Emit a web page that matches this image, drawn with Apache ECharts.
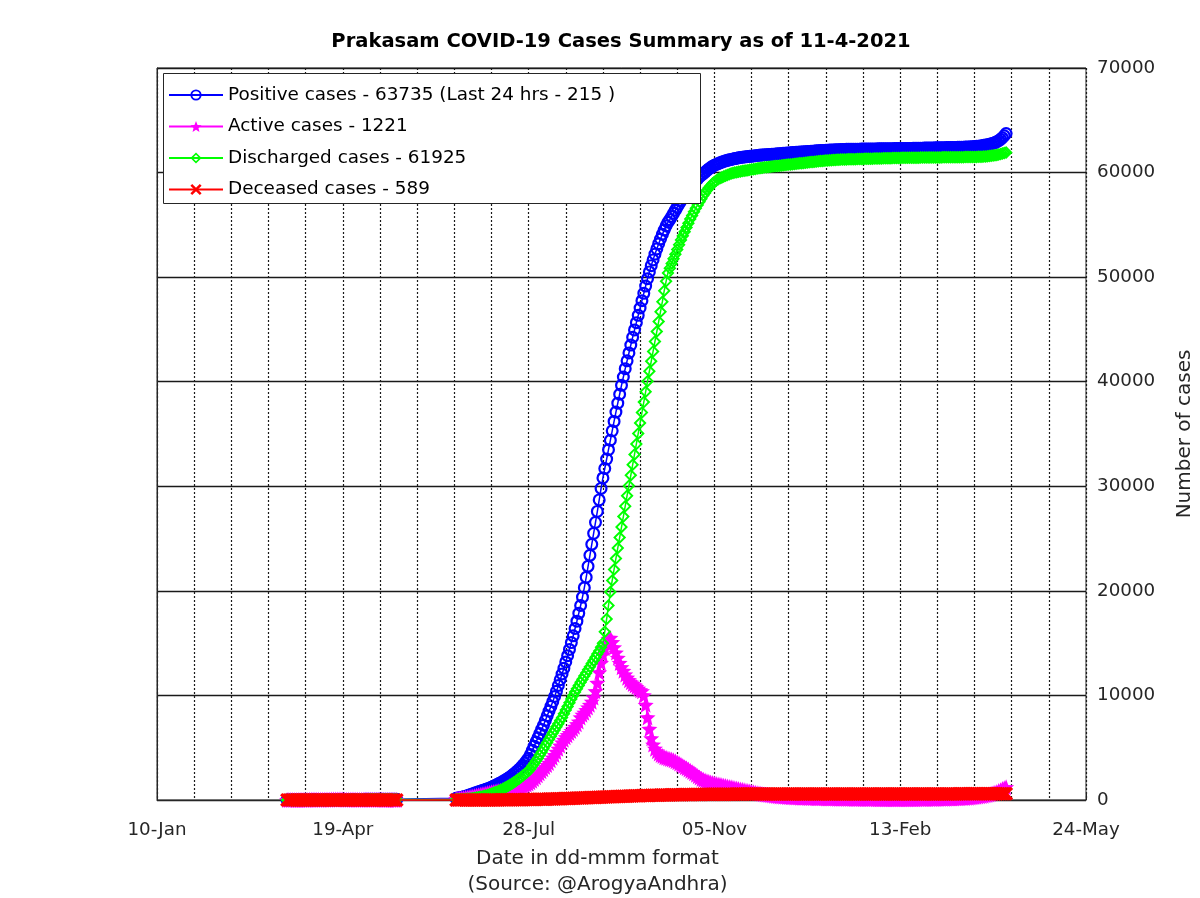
<!DOCTYPE html>
<html><head><meta charset="utf-8">
<script src="https://cdn.jsdelivr.net/npm/echarts@6/dist/echarts.min.js"></script>
<style>html,body{margin:0;padding:0;background:#fff}#c{width:1200px;height:898px}</style>
</head><body><div id="c"></div>
<script>
// ---------- DATA ----------
const titleText = 'Prakasam COVID-19 Cases Summary as of 11-4-2021';
const xAxisName = 'Date in dd-mmm format\n(Source: @ArogyaAndhra)';
const yAxisName = 'Number of cases';
// x axis: days counted from 10-Jan-2020, labelled every 100 days
const xTickLabels = ['10-Jan', '19-Apr', '28-Jul', '05-Nov', '13-Feb', '24-May'];
const xTickStep = 100;
const xMax = 500;
const yMax = 70000;
const yStep = 10000;
const seriesNames = [
  'Positive cases - 63735 (Last 24 hrs - 215 )',
  'Active cases - 1221',
  'Discharged cases - 61925',
  'Deceased cases - 589'
];
// first reporting block: day 70 (20-Mar-2020) .. day 129
const seg1Start = 70;
// second reporting block: day 161 (19-Jun-2020) .. day 457 (11-Apr-2021)
const seg2Start = 161;

const positiveA = [1,2,2,3,3,4,5,6,8,10, 11,11,12,15,17,17,17,17,17,21, 23,27,30,32,38,38,41,42,42,42,
  42,42,44,44,44,49,53,53,56,56, 56,58,60,60,60,60,61,61,61,61, 62,62,62,63,63,63,63,63,63,63];
const activeA = [1,2,2,3,3,4,5,6,8,10, 11,11,12,15,17,17,17,17,17,21, 23,27,29,31,36,36,38,38,38,37,
  36,34,34,32,30,32,33,31,32,30, 28,28,28,26,24,22,21,19,17,15, 14,12,11,11,10,9,8,8,7,7];
const dischargedA = [0,0,0,0,0,0,0,0,0,0, 0,0,0,0,0,0,0,0,0,0, 0,0,1,1,2,2,3,4,4,5,
  6,8,10,12,14,17,20,22,24,26, 28,30,32,34,36,38,40,42,44,46, 48,50,51,52,53,54,55,55,56,56];
const deceasedA = [0,0,0,0,0,0,0,0,0,0, 0,0,0,0,0,0,0,0,0,0, 0,0,0,0,0,0,0,0,0,0,
  0,0,0,0,0,0,0,0,0,0, 0,0,0,0,0,0,0,0,0,0, 0,0,0,0,0,0,0,0,0,0];

const positiveB = [
  160,190,230,270,310,360,410,470,530,600,
  660,720,780,840,900,960,1020,1080,1150,1230,
  1310,1390,1480,1570,1660,1760,1860,1970,2090,2210,
  2340,2480,2620,2780,2950,3130,3330,3540,3760,4000,
  4350,4750,5150,5550,5950,6350,6750,7150,7600,8050,
  8500,8950,9400,9900,10400,10950,11500,12050,12600,13200,
  13800,14400,15050,15700,16400,17100,17850,18600,19400,
  20300,21300,22350,23400,24450,25500,26550,27600,28700,29800,30800,
  31700,32600,33500,34400,35300,36200,37100,37950,38800,39650,
  40450,41250,42000,42750,43500,44250,44950,45650,46350,47050,47750,48450,49150,49850,
  50500,51100,51650,52200,52700,53200,53650,54100,54500,54900,55250,55500,55800,56100,
  56400,56700,57000,57300,57550,57800,58050,58300,58550,58800,59000,59200,59400,59600,59750,59900,60050,60200,60350,60480,60600,
  60700,60780,60860,60930,61000,61060,61120,61170,61220,61260,61300,61340,61380,61410,61440,61470,61490,61510,
  61530,61550,61570,61590,61610,61630,61650,61670,61690,61700,61710,61720,61740,61750,61760,61780,61790,61810,
  61830,61840,61855,61870,61880,61895,61910,61920,61935,61950,61960,61975,61990,62000,62010,62025,62040,62050,
  62060,62075,62090,62100,62110,62120,62130,62140,62150,62160,62170,62180,62185,62190,62200,62205,62210,62220,
  62225,62228,62230,62233,62236,62240,62242,62245,62248,62250,62253,62256,62258,62260,62263,62266,62268,62270,
  62272,62275,62278,62280,62283,62285,62288,62290,62292,62295,62297,62300,62302,62304,62306,62308,62310,
  62314,62318,62322,62326,62330,62334,62338,62342,62346,62350,62354,62358,62362,62366,62370,62374,62378,62382,
  62386,62390,62394,62398,62402,62406,62410,62416,62422,62428,62436,62444,62452,
  62462,62475,62490,62508,62528,62550,62575,62602,62632,62665,62700,62745,62800,62870,62950,63050,63180,63330,63520,63735
];
const activeB = [
  100,120,140,160,180,210,235,270,300,340,
  380,420,460,500,540,580,620,660,700,740,
  770,800,830,860,890,920,950,980,1010,1040,
  1070,1100,1140,1180,1220,1270,1330,1400,1480,1570,
  1700,1850,2000,2180,2360,2550,2750,2950,3150,3350,
  3550,3800,4050,4300,4600,4900,5200,5500,5750,6000,
  6200,6400,6600,6800,7000,7250,7500,7900,8150,
  8350,8600,8850,9100,9400,9800,10400,11200,12200,13100,13900,
  14500,15000,15400,15500,15100,14600,14100,13600,13100,12700,
  12350,12000,11700,11450,11250,11100,10950,10800,10650,10500,10400,10000,9100,7900,
  6800,5900,5300,4900,4650,4450,4300,4200,4100,4050,3980,3920,3870,3800,
  3700,3600,3500,3380,3260,3140,3030,2920,2800,2680,2550,2420,2280,2150,2020,1940,1870,1800,1740,1680,1630,
  1580,1530,1490,1450,1410,1370,1330,1290,1250,1210,1170,1130,1090,1050,1010,970,930,890,
  850,810,770,730,690,650,620,590,560,530,500,475,450,425,400,380,360,340,
  325,310,300,290,280,270,260,250,240,232,225,218,210,205,200,195,190,185,
  180,175,170,166,162,158,154,150,146,142,138,134,130,127,124,121,118,115,
  112,110,108,106,104,102,100,98,96,94,92,90,88,86,84,82,80,78,
  76,75,74,73,72,72,71,71,70,70,70,70,71,72,73,75,77,
  79,81,83,85,87,89,91,93,95,98,101,104,107,110,114,118,122,126,
  130,135,140,146,152,158,165,172,180,190,200,212,225,
  240,258,278,300,325,352,382,415,450,490,535,585,640,700,770,850,940,1040,1130,1221
];
const dischargedB = [
  60,64,68,74,82,95,110,130,150,175,
  200,230,260,300,340,380,430,480,540,600,
  660,730,800,880,960,1050,1140,1240,1340,1450,
  1560,1680,1800,1930,2060,2200,2340,2490,2640,2800,
  3000,3250,3500,3750,4000,4300,4600,4900,5200,5500,
  5800,6100,6400,6700,7000,7300,7600,7900,8250,8600,
  8950,9300,9650,10000,10320,10640,10950,11250,11550,
  11850,12150,12450,12750,13050,13350,13650,13950,14250,14600,15000,
  16100,17300,18600,19900,21000,22050,23100,24100,25100,26100,
  27100,28100,29100,30050,31050,32050,33050,34050,35050,36050,37050,38050,39050,40050,
  41000,41950,42900,43850,44800,45750,46700,47650,48700,49600,50400,50850,51300,51750,
  52200,52650,53100,53550,53950,54350,54750,55150,55550,55900,56250,56600,56900,57200,57500,57800,58050,58300,58550,58750,58950,
  59100,59230,59350,59450,59540,59620,59700,59770,59840,59900,59950,60000,60040,60080,60110,60140,60170,60200,
  60230,60260,60290,60320,60350,60380,60410,60440,60470,60500,60520,60540,60560,60580,60600,60620,60640,60660,
  60680,60700,60720,60740,60760,60780,60800,60820,60840,60860,60880,60900,60920,60940,60960,60980,61000,61020,
  61040,61060,61080,61100,61115,61130,61145,61160,61175,61190,61200,61210,61220,61230,61240,61250,61255,61260,
  61265,61270,61275,61280,61285,61290,61295,61300,61305,61310,61315,61320,61325,61330,61335,61340,61345,61350,
  61355,61360,61365,61370,61375,61380,61385,61390,61395,61400,61403,61406,61409,61412,61415,61418,61420,
  61422,61424,61426,61428,61430,61432,61434,61436,61438,61440,61442,61444,61446,61448,61450,61452,61454,61456,
  61458,61460,61462,61464,61466,61468,61470,61472,61474,61476,61478,61480,61482,
  61485,61490,61495,61500,61506,61512,61520,61530,61545,61560,61580,61600,61625,61655,61690,61730,61775,61820,61870,61925
];
const deceasedB = [
  2,2,2,2,2,3,3,3,3,3,
  4,4,4,5,5,5,6,6,7,7,
  8,9,10,11,12,13,14,15,17,19,
  21,23,25,27,29,31,33,36,39,42,
  45,48,52,56,60,64,68,72,77,82,
  87,92,97,102,108,114,120,126,132,138,
  145,152,159,166,173,180,187,194,201,
  208,215,222,229,236,243,250,257,264,271,278,
  285,292,299,306,313,320,327,334,341,348,
  355,362,369,376,383,390,396,402,408,414,420,426,431,436,
  441,446,451,456,461,466,470,474,478,482,486,490,494,497,
  500,503,506,509,512,515,518,521,524,527,529,531,533,535,537,539,541,543,545,547,549,
  550,551,552,553,554,555,556,557,558,559,560,561,562,563,564,565,566,567,
  567,568,568,569,569,570,570,571,571,572,572,573,573,574,574,575,575,575,
  576,576,576,577,577,577,578,578,578,578,579,579,579,579,580,580,580,580,
  580,581,581,581,581,581,582,582,582,582,582,582,583,583,583,583,583,583,
  583,583,583,583,584,584,584,584,584,584,584,584,584,584,584,584,584,585,
  585,585,585,585,585,585,585,585,585,585,585,585,585,585,585,585,585,
  585,585,585,585,585,585,585,585,585,585,585,585,585,585,585,585,585,585,
  585,585,585,585,585,585,585,586,586,586,586,586,586,
  586,586,586,586,586,586,586,586,587,587,587,587,587,587,588,588,588,588,588,589
];

// ---------- STYLE ----------
const FONT = '"DejaVu Sans", "Liberation Sans", Arial, sans-serif';
const colors = ['#0000ff', '#ff00ff', '#00ff00', '#ff0000'];
const symbols = [
  // hollow circle
  'path://M50,0A50,50,0,1,1,50,100A50,50,0,1,1,50,0ZM50,17A33,33,0,1,0,50,83A33,33,0,1,0,50,17Z',
  // star
  'path://M50,0L62.9,32.2L97.6,34.5L70.9,56.8L79.4,90.5L50,72L20.6,90.5L29.1,56.8L2.4,34.5L37.1,32.2Z',
  // hollow diamond
  'path://M50,0L100,50L50,100L0,50ZM50,21L21,50L50,79L79,50Z',
  // x cross
  'path://M0,16L16,0L100,84L84,100ZM84,0L100,16L16,100L0,84Z'
];
const symbolSizes = [13, 16, 13, 14];

function pairs(start, arr) { return arr.map((v, i) => [start + i, v]); }
const allData = [
  pairs(seg1Start, positiveA).concat(pairs(seg2Start, positiveB)),
  pairs(seg1Start, activeA).concat(pairs(seg2Start, activeB)),
  pairs(seg1Start, dischargedA).concat(pairs(seg2Start, dischargedB)),
  pairs(seg1Start, deceasedA).concat(pairs(seg2Start, deceasedB))
];

const chart = echarts.init(document.getElementById('c'), null, {renderer: 'canvas'});
const dotted = {color: '#1a1a1a', width: 1.2, type: [2, 2]};

chart.setOption({
  animation: false,
  backgroundColor: '#ffffff',
  textStyle: {fontFamily: FONT},
  title: {
    text: titleText, left: 621, top: 32, textAlign: 'center', padding: 0,
    textStyle: {fontFamily: FONT, fontSize: 19.5, fontWeight: 'bold', color: '#000'}
  },
  grid: {left: 157, right: 114, top: 68, bottom: 98, show: true, borderColor: '#262626', borderWidth: 1,
    backgroundColor: 'transparent', outerBoundsMode: 'none', containLabel: false},
  xAxis: {
    type: 'value', min: 0, max: xMax, interval: xTickStep,
    name: xAxisName, nameLocation: 'middle', nameGap: 46,
    nameTextStyle: {fontFamily: FONT, fontSize: 20, color: '#262626', lineHeight: 26, padding: [0, 48, 0, 0]},
    axisLine: {show: true, lineStyle: {color: '#262626', width: 1}},
    axisTick: {show: true, inside: true, length: 8, lineStyle: {color: '#262626'}},
    axisLabel: {show: true, margin: 21, fontFamily: FONT, fontSize: 18.3, color: '#262626',
      showMinLabel: true, showMaxLabel: true,
      formatter: v => xTickLabels[Math.round(v / xTickStep)] || ''},
    splitLine: {show: true, lineStyle: dotted},
    minorTick: {show: false, splitNumber: 5},
    minorSplitLine: {show: true, lineStyle: dotted}
  },
  yAxis: {
    type: 'value', position: 'right', min: 0, max: yMax, interval: yStep,
    name: yAxisName, nameLocation: 'middle', nameGap: 89, nameRotate: 90,
    nameTextStyle: {fontFamily: FONT, fontSize: 20, color: '#262626'},
    axisLine: {show: true, lineStyle: {color: '#262626', width: 1}},
    axisTick: {show: false},
    axisLabel: {margin: 11, fontFamily: FONT, fontSize: 18.3, color: '#262626', formatter: v => String(v)},
    splitLine: {show: true, lineStyle: {color: '#1a1a1a', width: 1.3, type: 'solid'}}
  },
  legend: {
    orient: 'vertical', left: 168, top: 85, padding: 0, z: 60,
    itemWidth: 54, itemHeight: 14, itemGap: 11.5,
    textStyle: {fontFamily: FONT, fontSize: 18.4, color: '#000', lineHeight: 20},
    data: seriesNames
  },
  graphic: [{
    type: 'rect', left: 163, top: 73, z: 50, zlevel: 0,
    shape: {width: 537, height: 130},
    style: {fill: '#ffffff', stroke: '#262626', lineWidth: 1}
  }],
  series: seriesNames.map((name, k) => ({
    name, type: 'line', data: allData[k],
    symbol: symbols[k], symbolSize: symbolSizes[k], showSymbol: true, showAllSymbol: true,
    clip: false, z: 2 + k,
    lineStyle: {color: colors[k], width: 1.5},
    itemStyle: {color: colors[k]},
    emphasis: {disabled: true}
  }))
});
</script>
</body></html>
